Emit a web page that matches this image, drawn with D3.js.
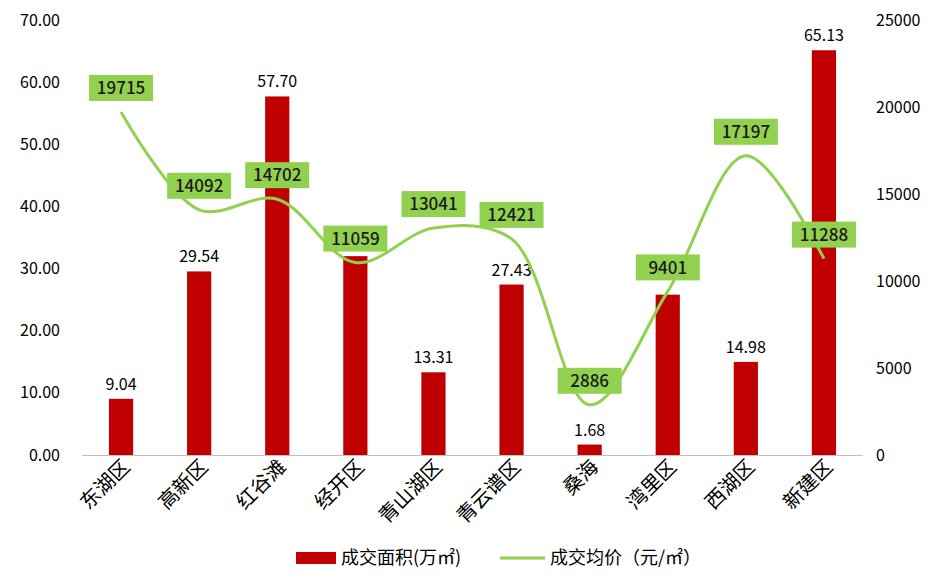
<!DOCTYPE html><html><head><meta charset="utf-8"><script src="https://cdn.jsdelivr.net/npm/d3@7"></script>
<style>body{margin:0;background:#fff}text{font-family:"Noto Sans CJK SC","Noto Sans",sans-serif}</style></head><body><svg id="c" width="952" height="579"></svg><script>
const categories=["东湖区","高新区","红谷滩","经开区","青山湖区","青云谱区","桑海","湾里区","西湖区","新建区"];
const areaValues=[9.04,29.54,57.70,32.0,13.31,27.43,1.68,25.8,14.98,65.13];
const areaLabelShown=[true,true,true,false,true,true,true,false,true,true];
const priceValues=[19715,14092,14702,11059,13041,12421,2886,9401,17197,11288];
const leftTicks=[0,10,20,30,40,50,60,70];
const rightTicks=[0,5000,10000,15000,20000,25000];
const svg=d3.select("#c");
const x=d3.scaleBand().domain(categories).range([82,863]).paddingInner(0.69).paddingOuter(0.345);
const yL=d3.scaleLinear().domain([0,70]).range([455,20]);
const yR=d3.scaleLinear().domain([0,25000]).range([455,20]);
const lA=svg.append("g").attr("transform","translate(66,0)").call(d3.axisLeft(yL).tickValues(leftTicks).tickFormat(d3.format(".2f")).tickSize(0).tickPadding(6));
const rA=svg.append("g").attr("transform","translate(870,0)").call(d3.axisRight(yR).tickValues(rightTicks).tickFormat(d=>d).tickSize(0).tickPadding(6));
[lA,rA].forEach(a=>{a.select(".domain").remove();a.selectAll("text").attr("font-size",16).attr("fill","#000");});
svg.append("line").attr("x1",82).attr("x2",863).attr("y1",455.5).attr("y2",455.5).attr("stroke","#bfbfbf");
const cx=d=>x(d)+x.bandwidth()/2;
svg.selectAll("rect.b").data(categories).join("rect").attr("x",d=>x(d)).attr("width",x.bandwidth())
 .attr("y",(d,i)=>yL(areaValues[i])).attr("height",(d,i)=>455-yL(areaValues[i])).attr("fill","#c00000");
svg.selectAll("text.bl").data(categories).join("text").filter((d,i)=>areaLabelShown[i])
 .attr("x",cx).attr("y",d=>yL(areaValues[categories.indexOf(d)])-9).attr("text-anchor","middle").attr("font-size",16).text(d=>areaValues[categories.indexOf(d)].toFixed(2));
const pts=categories.map((c,i)=>[cx(c),yR(priceValues[i])]);
svg.append("path").attr("d",d3.line().curve(d3.curveCatmullRom.alpha(0.5))(pts)).attr("fill","none").attr("stroke","#92d050").attr("stroke-width",3);
const g=svg.selectAll("g.pl").data(categories).join("g").attr("transform",(d,i)=>`translate(${cx(d)},${yR(priceValues[i])-24})`);
g.append("rect").attr("x",-32).attr("y",-13).attr("width",64).attr("height",26).attr("fill","#92d050");
g.append("text").attr("text-anchor","middle").attr("dy","0.36em").attr("font-size",17).attr("font-weight","500").attr("fill","#1a1a1a").text((d,i)=>priceValues[i]);
svg.selectAll("text.xl").data(categories).join("text").attr("font-size",20).attr("text-anchor","end")
 .attr("transform",d=>`translate(${cx(d)+10},${468}) rotate(-45)`).text(d=>d);
const lg=svg.append("g").attr("transform","translate(0,558)");
lg.append("rect").attr("x",296).attr("y",-6).attr("width",40).attr("height",12).attr("fill","#c00000");
lg.append("text").attr("x",341).attr("dy","0.35em").attr("font-size",18).text("成交面积(万㎡)");
lg.append("line").attr("x1",500).attr("x2",545).attr("stroke","#92d050").attr("stroke-width",3);
lg.append("text").attr("x",550).attr("dy","0.35em").attr("font-size",18).text("成交均价（元/㎡）");
</script></body></html>
